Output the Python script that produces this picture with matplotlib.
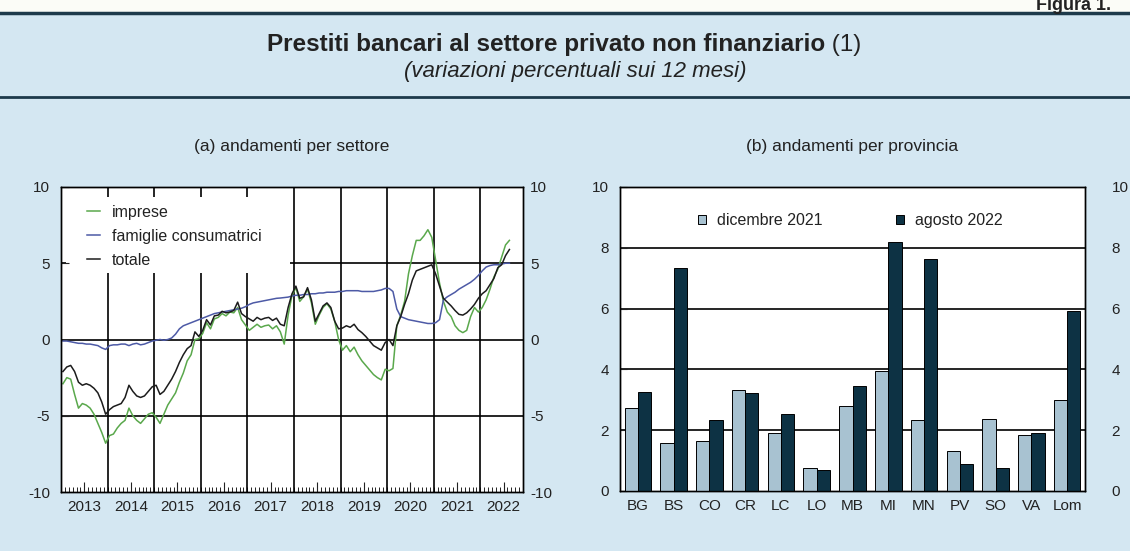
import numpy as np
import matplotlib.pyplot as plt
from matplotlib.lines import Line2D
from matplotlib.patches import Patch, Rectangle

plt.rcParams['font.family'] = ['Liberation Sans', 'DejaVu Sans']
plt.rcParams['axes.unicode_minus'] = False

# variazioni sui 12 mesi, dati mensili da gennaio 2013 ad agosto 2022
imprese = [
    -2.9, -2.5, -2.6, -3.6, -4.5, -4.2, -4.3, -4.5, -4.9, -5.5, -6.1, -6.8,
    -6.3, -6.2, -5.8, -5.5, -5.3, -4.5, -5.0, -5.3, -5.5, -5.2, -4.9, -4.8,
    -5.1, -5.5, -4.9, -4.3, -3.9, -3.5, -2.8, -2.2, -1.4, -1.0, 0.0, 0.05,
    0.4, 1.1, 0.7, 1.35, 1.45, 1.7, 1.55, 1.8, 1.75, 2.1, 1.3, 0.95,
    0.6, 0.8, 1.0, 0.8, 0.9, 0.95, 0.7, 0.9, 0.5, -0.3, 1.6, 2.9,
    3.4, 2.5, 2.8, 3.3, 2.4, 1.0, 1.6, 2.1, 2.35, 2.0, 1.2, 0.0,
    -0.7, -0.4, -0.8, -0.5, -1.0, -1.4, -1.7, -2.0, -2.3, -2.5, -2.65, -1.95,
    -2.05, -1.9, 0.9, 1.6, 2.5, 4.3, 5.5, 6.5, 6.5, 6.8, 7.2, 6.7,
    5.2, 3.7, 2.5, 1.8, 1.5, 0.9, 0.6, 0.45, 0.6, 1.5, 2.1, 1.8,
    2.1, 2.6, 3.3, 4.1, 4.6, 5.4, 6.2, 6.5,
]
famiglie = [
    -0.1, -0.1, -0.15, -0.2, -0.25, -0.25, -0.3, -0.3, -0.35, -0.4, -0.55, -0.65,
    -0.4, -0.35, -0.35, -0.3, -0.3, -0.4, -0.3, -0.25, -0.35, -0.3, -0.2, -0.1,
    -0.05, 0.0, -0.05, 0.0, 0.1, 0.35, 0.7, 0.9, 1.0, 1.1, 1.2, 1.3,
    1.4, 1.5, 1.6, 1.7, 1.75, 1.8, 1.85, 1.9, 1.95, 2.0, 2.05, 2.15,
    2.3, 2.4, 2.45, 2.5, 2.55, 2.6, 2.65, 2.7, 2.72, 2.75, 2.78, 2.85,
    2.9, 2.9, 2.95, 2.95, 3.0, 3.0, 3.05, 3.05, 3.1, 3.1, 3.1, 3.15,
    3.15, 3.2, 3.2, 3.2, 3.2, 3.15, 3.15, 3.15, 3.15, 3.2, 3.25, 3.35,
    3.35, 3.15, 2.0, 1.5, 1.4, 1.3, 1.25, 1.2, 1.15, 1.1, 1.05, 1.05,
    1.1, 1.3, 2.6, 2.8, 2.95, 3.1, 3.3, 3.45, 3.6, 3.75, 3.95, 4.2,
    4.5, 4.75, 4.85, 4.9, 4.9, 4.95, 5.0, 5.0,
]
totale = [
    -2.1, -1.8, -1.7, -2.1, -2.8, -3.0, -2.9, -3.0, -3.2, -3.5, -4.1, -4.9,
    -4.6, -4.4, -4.3, -4.2, -3.8, -3.0, -3.4, -3.7, -3.8, -3.7, -3.4, -3.1,
    -3.0, -3.6, -3.4, -3.0, -2.6, -2.1, -1.5, -1.0, -0.6, -0.4, 0.5, 0.2,
    0.6, 1.3, 0.95, 1.55, 1.6, 1.85, 1.75, 1.8, 1.9, 2.45, 1.7, 1.5,
    1.35, 1.2, 1.45, 1.3, 1.4, 1.45, 1.25, 1.4, 1.0, 0.9, 2.1, 3.0,
    3.5, 2.7, 2.8, 3.4, 2.6, 1.2, 1.7, 2.2, 2.4, 2.1, 1.2, 0.7,
    0.75, 0.9, 0.8, 1.0, 0.65, 0.45, 0.2, -0.1, -0.4, -0.55, -0.7, -0.2,
    0.0, -0.4, 0.9, 1.5, 2.3, 3.0, 3.9, 4.5, 4.6, 4.7, 4.8, 4.9,
    4.3, 3.5, 2.7, 2.45, 2.2, 1.9, 1.65, 1.6, 1.75, 2.0, 2.3, 2.7,
    3.0, 3.2, 3.6, 4.0, 4.7, 4.9, 5.5, 5.9,
]
years = [str(y) for y in range(2013, 2023)]

# prestiti per provincia
province = ["BG", "BS", "CO", "CR", "LC", "LO", "MB", "MI", "MN", "PV", "SO", "VA", "Lom"]
dic_2021 = [2.73, 1.57, 1.63, 3.33, 1.90, 0.75, 2.79, 3.95, 2.33, 1.30, 2.38, 1.84, 3.00]
ago_2022 = [3.27, 7.35, 2.33, 3.21, 2.53, 0.68, 3.47, 8.18, 7.63, 0.89, 0.76, 1.91, 5.91]

W, H = 1130, 551
BG = "#d4e7f2"
TXT = "#222222"
C_IMP = "#5aa84c"
C_FAM = "#4d5aa6"
C_TOT = "#1c1c1c"
C_LIGHT = "#a8c2d1"
C_DARK = "#0d3244"


def px_axes(fig, left, top, right, bottom):
    return fig.add_axes([left / W, 1 - bottom / H, (right - left) / W, (bottom - top) / H])


fig = plt.figure(figsize=(W / 100, H / 100), dpi=100, facecolor=BG)

# header: white strip, rules, titles
fig.patches.append(Rectangle((0, 1 - 12 / H), 1, 12 / H, transform=fig.transFigure,
                             facecolor="#fbfcf7", edgecolor="none", zorder=0))
fig.add_artist(Line2D([0, 1], [1 - 13 / H] * 2, color="#1d3a4b", lw=2.5))
fig.add_artist(Line2D([0, 1], [1 - 97 / H] * 2, color="#1d3a4b", lw=2.0))
fig.text(1036 / W, 1 - 10 / H, "Figura 1.", fontsize=13, fontweight="bold", color=TXT,
         ha="left", va="baseline")

# bold title followed by a regular "(1)", centred together
t_main = fig.text(0, 1 - 45 / H, "Prestiti bancari al settore privato non finanziario",
                  fontsize=17.5, fontweight="bold", color=TXT, ha="left", va="center")
t_note = fig.text(0, 1 - 45 / H, " (1)", fontsize=17.5, color=TXT, ha="left", va="center")
renderer = fig.canvas.get_renderer()
w_main = t_main.get_window_extent(renderer).width
w_note = t_note.get_window_extent(renderer).width
x0 = 564 - (w_main + w_note) / 2
t_main.set_x(x0 / W)
t_note.set_x((x0 + w_main) / W)

fig.text(575 / W, 1 - 72 / H, "(variazioni percentuali sui 12 mesi)", fontsize=16,
         style="italic", color=TXT, ha="center", va="center")
fig.text(292 / W, 1 - 147 / H, "(a) andamenti per settore", fontsize=12.5, color=TXT,
         ha="center", va="center")
fig.text(852 / W, 1 - 147 / H, "(b) andamenti per provincia", fontsize=12.5, color=TXT,
         ha="center", va="center")

# ---- (a) time series ----
ax = px_axes(fig, 61, 187, 523, 492)
months = np.arange(len(totale))
ax.set_xlim(-0.5, 118.5)
ax.set_ylim(-10, 10)
for b in np.arange(11.5, 118, 12):
    ax.axvline(b, color="k", lw=1.2, zorder=1)
for yv in (-5, 0, 5):
    ax.axhline(yv, color="k", lw=1.2, zorder=1)
ax.add_patch(Rectangle(((66 - 61) / 462, 1 - (273 - 187) / 305), (290 - 66) / 462,
                       (273 - 197) / 305, transform=ax.transAxes, facecolor="white",
                       edgecolor="none", zorder=1.5))
ax.plot(months, imprese, color=C_IMP, lw=1.1, zorder=2, label="imprese")
ax.plot(months, famiglie, color=C_FAM, lw=1.1, zorder=2, label="famiglie consumatrici")
ax.plot(months, totale, color=C_TOT, lw=1.1, zorder=2, label="totale")
ax.set_yticks([-10, -5, 0, 5, 10])
ax.set_xticks(np.arange(5.5, 119, 12))
ax.set_xticklabels(years)
ax.set_xticks(np.arange(-0.5, 119, 1), minor=True)
ax.tick_params(axis="x", which="major", direction="in", length=7, width=0.8,
               labelsize=11, pad=6, colors=TXT)
ax.tick_params(axis="x", which="minor", direction="in", length=3.5, width=0.6)
ax.tick_params(axis="y", direction="in", length=6, width=0.8, labelsize=11, pad=8,
               colors=TXT, right=True)
axr = ax.twinx()
axr.set_ylim(-10, 10)
axr.set_yticks([-10, -5, 0, 5, 10])
axr.tick_params(axis="y", direction="in", length=0, labelsize=11, pad=5, colors=TXT)
for a in (ax, axr):
    for s in a.spines.values():
        s.set_linewidth(1.0)
leg = ax.legend(loc="upper left", bbox_to_anchor=((87 - 61) / 462, 1 - (205 - 187) / 305),
                frameon=False, fontsize=11.5, handlelength=0.8, handletextpad=0.75,
                labelspacing=0.55, borderpad=0, borderaxespad=0)
for t in leg.get_texts():
    t.set_color(TXT)

# ---- (b) bars ----
bx = px_axes(fig, 620, 187, 1085, 491)
x = np.arange(len(province))
w = 0.37
bx.set_xlim(-0.5, len(province) - 0.5)
bx.set_ylim(0, 10)
for yv in (2, 4, 6, 8):
    bx.axhline(yv, color="k", lw=1.2, zorder=1)
bx.bar(x - w / 2, dic_2021, w, color=C_LIGHT, edgecolor="k", lw=0.7, zorder=3)
bx.bar(x + w / 2, ago_2022, w, color=C_DARK, edgecolor="k", lw=0.7, zorder=3)
bx.set_xticks(x)
bx.set_xticklabels(province)
bx.set_yticks(np.arange(0, 11, 2))
bx.tick_params(axis="x", length=0, labelsize=11, pad=6, colors=TXT)
bx.tick_params(axis="y", direction="in", length=5, width=0.8, labelsize=11, pad=8,
               colors=TXT, right=True)
bxr = bx.twinx()
bxr.set_ylim(0, 10)
bxr.set_yticks(np.arange(0, 11, 2))
bxr.tick_params(axis="y", direction="in", length=0, labelsize=11, pad=19, colors=TXT)
for a in (bx, bxr):
    for s in a.spines.values():
        s.set_linewidth(1.0)
handles = [Patch(facecolor=C_LIGHT, edgecolor="k", lw=0.7, label="dicembre 2021"),
           Patch(facecolor=C_DARK, edgecolor="k", lw=0.7, label="agosto 2022")]
leg2 = bx.legend(handles=handles, ncol=2, loc="upper left",
                 bbox_to_anchor=((698 - 620) / 465, 1 - (213 - 187) / 304),
                 frameon=False, fontsize=11.5, handlelength=0.5, handleheight=0.5,
                 handletextpad=0.7, columnspacing=4.6, borderpad=0, borderaxespad=0)
for t in leg2.get_texts():
    t.set_color(TXT)

fig.savefig("out.png", dpi=100, facecolor=BG)
